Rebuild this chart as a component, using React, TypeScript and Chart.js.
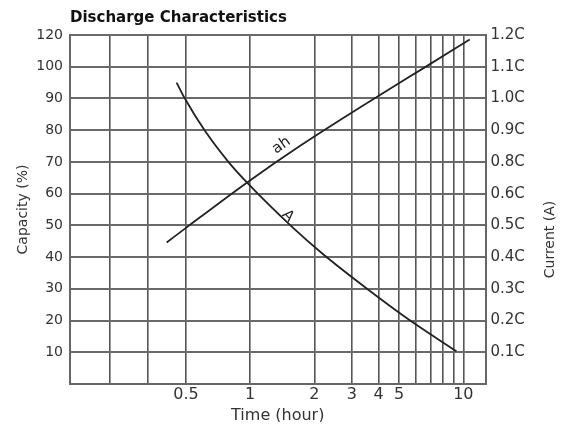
import React, { useEffect, useRef } from "react";
import { Chart, registerables } from "chart.js";

Chart.register(...registerables);

const TITLE = "Discharge Characteristics";
const X_TITLE = "Time (hour)";
const LEFT_TITLE = "Capacity (%)";
const RIGHT_TITLE = "Current (A)";

// x grid lines (hours) and their labels
const xGridValues = [0.22, 0.33, 0.5, 1, 2, 3, 4, 5, 6, 7, 8, 9, 10];
const xTickLabels = ["", "", "0.5", "1", "2", "3", "4", "5", "", "", "", "", "10"];

// y grid lines (axis units) and the labels printed on both sides
const yGridValues = [10, 20, 30, 40, 50, 60, 70, 80, 90, 100, 110];
const leftTickLabels = ["10", "20", "30", "40", "50", "60", "70", "80", "90", "100", "120"];
const rightTickLabels = ["0.1C", "0.2C", "0.3C", "0.4C", "0.5C", "0.6C", "0.8C", "0.9C", "1.0C", "1.1C", "1.2C"];

// "ah" curve (capacity, left axis)
const ahTime = [0.406, 0.5, 0.976, 1.71, 3.6, 6.59, 10.71];
const ahValue = [44.6, 49.2, 63.7, 75.0, 88.9, 99.8, 108.6];

// "A" curve (current, right axis)
const aTime = [0.452, 0.495, 0.614, 0.789, 0.973, 1.591, 2.2, 3.57, 5.5, 9.28];
const aValue = [95.0, 89.9, 79.8, 70.1, 63.3, 49.2, 40.9, 29.8, 20.5, 10.3];

// in-plot curve labels
const curveNames = ["ah", "A"];
const curveLabelTime = [1.5, 1.45];
const curveLabelGap = [7, 1];

const FONT = "'DejaVu Sans', Verdana, sans-serif";
const TEXT = "#333333";

const curveLabelPlugin = {
  id: "curveLabels",
  afterDatasetsDraw(chart: any) {
    const ctx = chart.ctx;
    const xs = chart.scales.x;
    curveNames.forEach((name, i) => {
      const pts = chart.getDatasetMeta(i).data;
      const px = xs.getPixelForValue(curveLabelTime[i]);
      let k = 0;
      while (k < pts.length - 2 && pts[k + 1].x < px) k++;
      const p0 = pts[k];
      const p1 = pts[k + 1];
      const t = (px - p0.x) / (p1.x - p0.x);
      const py = p0.y + t * (p1.y - p0.y);
      const ang = Math.atan2(p1.y - p0.y, p1.x - p0.x);
      ctx.save();
      ctx.translate(px, py);
      ctx.rotate(ang);
      ctx.font = `15px ${FONT}`;
      ctx.fillStyle = "#222";
      ctx.textAlign = "center";
      ctx.textBaseline = "alphabetic";
      ctx.fillText(name, 0, -curveLabelGap[i]);
      ctx.restore();
    });
    // right axis title, reading bottom-to-top
    const y1 = chart.scales.y1;
    const area = chart.chartArea;
    ctx.save();
    ctx.translate(y1.right - 9, (area.top + area.bottom) / 2 + 30);
    ctx.rotate(-Math.PI / 2);
    ctx.font = `14px ${FONT}`;
    ctx.fillStyle = TEXT;
    ctx.textAlign = "center";
    ctx.textBaseline = "middle";
    ctx.fillText(RIGHT_TITLE, 0, 0);
    ctx.restore();
  },
};

export default function App() {
  const ref = useRef<HTMLCanvasElement | null>(null);

  useEffect(() => {
    if (!ref.current) return;
    const chart = new Chart(ref.current, {
      type: "line",
      data: {
        datasets: [
          {
            label: "ah",
            data: ahTime.map((t, i) => ({ x: t, y: ahValue[i] })),
            yAxisID: "y",
            borderColor: "#222",
            borderWidth: 1.8,
            pointRadius: 0,
            cubicInterpolationMode: "monotone",
          },
          {
            label: "A",
            data: aTime.map((t, i) => ({ x: t, y: aValue[i] })),
            yAxisID: "y1",
            borderColor: "#222",
            borderWidth: 1.8,
            pointRadius: 0,
            cubicInterpolationMode: "monotone",
          },
        ],
      },
      options: {
        animation: false,
        responsive: true,
        maintainAspectRatio: false,
        layout: { padding: 0 },
        plugins: {
          legend: { display: false },
          tooltip: { enabled: false },
          title: {
            display: true,
            text: TITLE,
            align: "start",
            fullSize: false,
            color: "#111",
            font: { family: FONT, size: 15, weight: "bold" },
            padding: { top: 1, bottom: 8 },
          },
        },
        scales: {
          x: {
            type: "logarithmic",
            position: "bottom",
            min: 0.143,
            max: 12.7,
            bounds: "data",
            afterBuildTicks: (s: any) => {
              s.ticks = xGridValues.map((v) => ({ value: v }));
            },
            afterFit: (s: any) => {
              s.height = 46;
            },
            grid: { display: true, color: "#555", lineWidth: 1.6, drawTicks: false },
            border: { display: true, color: "#666", width: 2 },
            ticks: {
              autoSkip: false,
              maxRotation: 0,
              minRotation: 0,
              padding: 1,
              color: TEXT,
              font: { family: FONT, size: 16 },
              callback: (v: any) => {
                const i = xGridValues.indexOf(Number(v));
                return i >= 0 ? xTickLabels[i] : "";
              },
            },
            title: {
              display: true,
              text: X_TITLE,
              color: TEXT,
              font: { family: FONT, size: 16 },
              padding: { top: 0, bottom: 4.6 },
            },
          },
          y: {
            type: "linear",
            position: "left",
            min: 0,
            max: 110,
            afterBuildTicks: (s: any) => {
              s.ticks = yGridValues.map((v) => ({ value: v }));
            },
            afterFit: (s: any) => {
              s.width = 62;
            },
            grid: { display: true, color: "#6a6a6a", lineWidth: 2, drawTicks: false },
            border: { display: true, color: "#666", width: 2 },
            ticks: {
              padding: 7,
              color: TEXT,
              font: { family: FONT, size: 14 },
              callback: (v: any) => {
                const i = yGridValues.indexOf(Number(v));
                return i >= 0 ? leftTickLabels[i] : "";
              },
            },
            title: {
              display: true,
              text: LEFT_TITLE,
              color: TEXT,
              font: { family: FONT, size: 14 },
              padding: { top: 6.6, bottom: 0 },
            },
          },
          y1: {
            type: "linear",
            position: "right",
            min: 0,
            max: 110,
            afterBuildTicks: (s: any) => {
              s.ticks = yGridValues.map((v) => ({ value: v }));
            },
            afterFit: (s: any) => {
              s.width = 73.5;
            },
            grid: { display: false, drawTicks: false },
            border: { display: true, color: "#666", width: 2 },
            ticks: {
              padding: 5,
              color: TEXT,
              font: { family: FONT, size: 15 },
              callback: (v: any) => {
                const i = yGridValues.indexOf(Number(v));
                return i >= 0 ? rightTickLabels[i] : "";
              },
            },
          },
        },
      },
      plugins: [curveLabelPlugin],
    });
    return () => chart.destroy();
  }, []);

  return (
    <div style={{ position: "relative", width: "100%", height: 422, marginBottom: -8 }}>
      <canvas ref={ref} />
    </div>
  );
}
